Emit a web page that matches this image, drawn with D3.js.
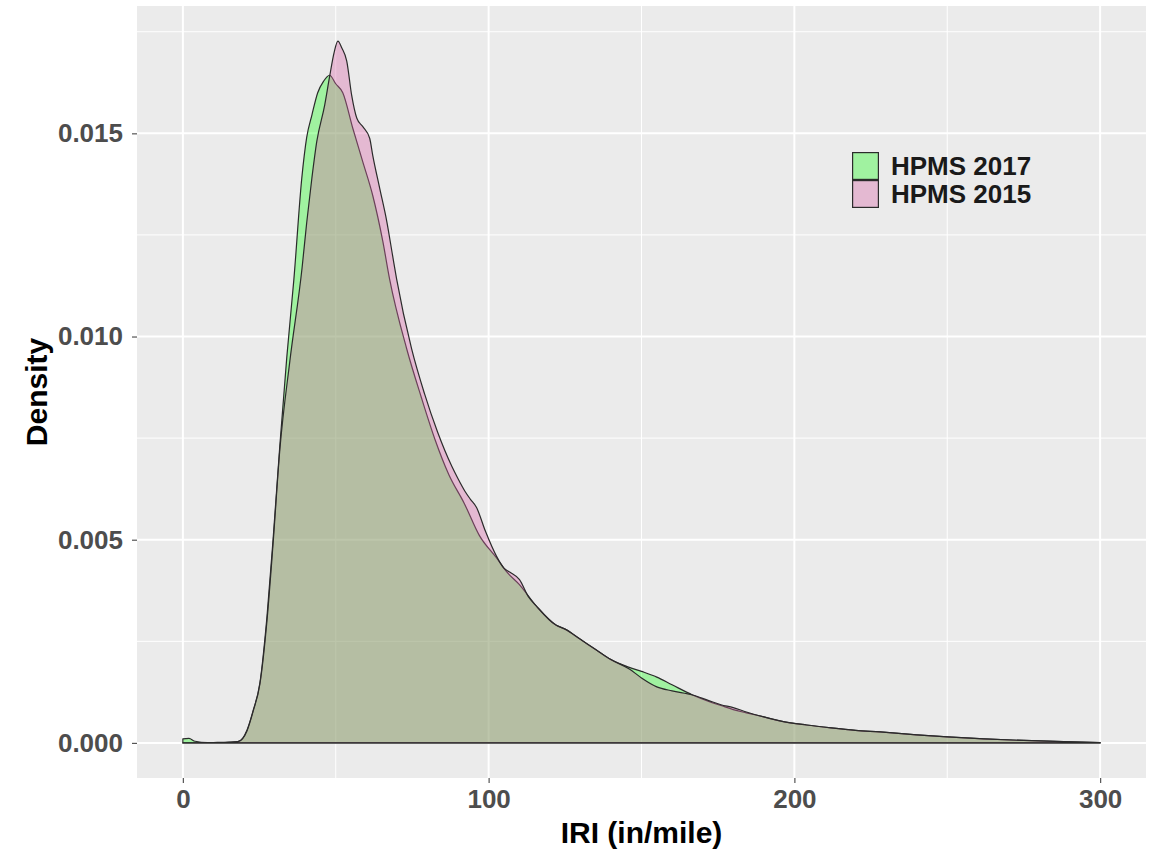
<!DOCTYPE html>
<html>
<head>
<meta charset="utf-8">
<script src="https://cdn.jsdelivr.net/npm/d3@7"></script>
<style>
  html, body { margin: 0; padding: 0; background: #ffffff; }
  svg { display: block; }
</style>
</head>
<body>
<svg id="chart" width="1151" height="852"></svg>
<script>
// ---- data ----
const seriesNames = ["HPMS 2017", "HPMS 2015"];

const iri2017 = [0, 2, 4, 8, 14, 18, 21, 23, 25.2, 27.5, 29.5, 31.7, 34, 36.3, 38.9, 40.5, 42.2, 44.1, 46, 48, 50, 52.3, 55.6, 58.8, 62.1, 65.4, 67.6, 73.2, 78, 82.4, 87, 92, 97, 102.6, 106, 110, 115.7, 122, 125, 130, 135, 140, 146, 150, 155, 160, 166.7, 172, 176, 180, 184.3, 190, 196, 204, 212, 220, 228, 240, 250, 262, 275, 288, 300];
const dens2017 = [0.00010, 0.00011, 0.00004, 0.00001, 0.00001, 0.00003, 0.00032, 0.00080, 0.00148, 0.00310, 0.00500, 0.00730, 0.00950, 0.01140, 0.01390, 0.01490, 0.01545, 0.01600, 0.01628, 0.01643, 0.01622, 0.01600, 0.01512, 0.01431, 0.01347, 0.01234, 0.01142, 0.00970, 0.00850, 0.00748, 0.00660, 0.00590, 0.00510, 0.00455, 0.00420, 0.00390, 0.00336, 0.00290, 0.00280, 0.00255, 0.00230, 0.00205, 0.00186, 0.00176, 0.00162, 0.00143, 0.00118, 0.00102, 0.00092, 0.00082, 0.00074, 0.00064, 0.00053, 0.00044, 0.00037, 0.00031, 0.00027, 0.00020, 0.00015, 0.00010, 0.00006, 0.00003, 0.00001];

const iri2015 = [0, 4, 10, 15, 18, 21, 23, 25.2, 27.5, 29.5, 31.7, 35, 39, 40.5, 42.2, 43.8, 46.4, 48, 49.5, 50.7, 52, 53.6, 55.2, 56.9, 58.8, 61.1, 62.1, 64.4, 66.7, 68.6, 69.9, 74.8, 79, 83.3, 88, 90, 92.2, 94, 96, 99, 102.6, 105, 107, 110.1, 113, 115.7, 122, 125, 130, 135, 140, 146, 150, 155, 160, 166.7, 172, 176, 180, 184.3, 190, 196, 204, 212, 220, 228, 240, 250, 262, 275, 288, 300];
const dens2015 = [0.00000, 0.00000, 0.00001, 0.00002, 0.00003, 0.00030, 0.00078, 0.00145, 0.00300, 0.00490, 0.00720, 0.00940, 0.01170, 0.01280, 0.01390, 0.01480, 0.01570, 0.01640, 0.01700, 0.01727, 0.01710, 0.01678, 0.01594, 0.01537, 0.01517, 0.01488, 0.01446, 0.01364, 0.01283, 0.01199, 0.01142, 0.00970, 0.00860, 0.00765, 0.00680, 0.00650, 0.00620, 0.00600, 0.00580, 0.00520, 0.00459, 0.00430, 0.00420, 0.00402, 0.00360, 0.00336, 0.00290, 0.00280, 0.00255, 0.00230, 0.00205, 0.00182, 0.00160, 0.00138, 0.00128, 0.00118, 0.00104, 0.00094, 0.00087, 0.00076, 0.00064, 0.00053, 0.00044, 0.00037, 0.00031, 0.00027, 0.00020, 0.00015, 0.00010, 0.00006, 0.00003, 0.00001];

const xTicks = [0, 100, 200, 300];
const xMinor = [50, 150, 250];
const yTicks = [0, 0.005, 0.010, 0.015];
const yMinor = [0.0025, 0.0075, 0.0125, 0.0175];
const yTickLabels = ["0.000", "0.005", "0.010", "0.015"];
const xTitle = "IRI (in/mile)";
const yTitle = "Density";

const fillColors = ["rgb(32,254,32)", "rgb(216,100,168)"];
const fillOpacity = 0.37;

// ---- layout ----
const svg = d3.select("#chart");
const panel = { left: 137, right: 1146, top: 6, bottom: 778 };

const series = [
  { name: seriesNames[0], pts: iri2017.map((x, i) => ({ x, y: dens2017[i] })) },
  { name: seriesNames[1], pts: iri2015.map((x, i) => ({ x, y: dens2015[i] })) }
];

const allX = iri2017.concat(iri2015);
const allY = dens2017.concat(dens2015);
const xr = d3.extent(allX), yr = [0, d3.max(allY)];
const xPad = (xr[1] - xr[0]) * 0.05, yPad = (yr[1] - yr[0]) * 0.05;

const x = d3.scaleLinear().domain([xr[0] - xPad, xr[1] + xPad]).range([panel.left, panel.right]);
const y = d3.scaleLinear().domain([yr[0] - yPad, yr[1] + yPad]).range([panel.bottom, panel.top]);

// panel background
svg.append("rect")
  .attr("x", panel.left).attr("y", panel.top)
  .attr("width", panel.right - panel.left).attr("height", panel.bottom - panel.top)
  .attr("fill", "#EBEBEB");

// grid
const grid = svg.append("g");
grid.selectAll(".xminor").data(xMinor).join("line")
  .attr("x1", d => x(d)).attr("x2", d => x(d))
  .attr("y1", panel.top).attr("y2", panel.bottom)
  .attr("stroke", "#ffffff").attr("stroke-width", 1);
grid.selectAll(".yminor").data(yMinor).join("line")
  .attr("y1", d => y(d)).attr("y2", d => y(d))
  .attr("x1", panel.left).attr("x2", panel.right)
  .attr("stroke", "#ffffff").attr("stroke-width", 1);
grid.selectAll(".xmajor").data(xTicks).join("line")
  .attr("x1", d => x(d)).attr("x2", d => x(d))
  .attr("y1", panel.top).attr("y2", panel.bottom)
  .attr("stroke", "#ffffff").attr("stroke-width", 2);
grid.selectAll(".ymajor").data(yTicks).join("line")
  .attr("y1", d => y(d)).attr("y2", d => y(d))
  .attr("x1", panel.left).attr("x2", panel.right)
  .attr("stroke", "#ffffff").attr("stroke-width", 2);

// density areas
const area = d3.area()
  .x(d => x(d.x))
  .y0(y(0))
  .y1(d => y(d.y))
  .curve(d3.curveMonotoneX);

svg.append("g").selectAll("path").data(series).join("path")
  .attr("d", d => area(d.pts))
  .attr("fill", (d, i) => fillColors[i])
  .attr("fill-opacity", fillOpacity)
  .attr("stroke", "#2b2b2b")
  .attr("stroke-width", 1.2)
  .attr("stroke-linejoin", "round");

// axes
const font = "'Liberation Sans', Arial, sans-serif";
const xAxis = d3.axisBottom(x).tickValues(xTicks).tickSize(5).tickPadding(7).tickFormat(d3.format("d"));
const gx = svg.append("g").attr("transform", `translate(0,${panel.bottom})`).call(xAxis);
gx.select(".domain").remove();
gx.selectAll(".tick line").attr("stroke", "#555555").attr("stroke-width", 1.2);
gx.selectAll(".tick text").attr("fill", "#4D4D4D").style("font-family", font)
  .style("font-size", "26px").style("font-weight", "bold");

const yAxis = d3.axisLeft(y).tickValues(yTicks).tickSize(5).tickPadding(9)
  .tickFormat((d, i) => yTickLabels[i]);
const gy = svg.append("g").attr("transform", `translate(${panel.left},0)`).call(yAxis);
gy.select(".domain").remove();
gy.selectAll(".tick line").attr("stroke", "#555555").attr("stroke-width", 1.2);
gy.selectAll(".tick text").attr("fill", "#4D4D4D").style("font-family", font)
  .style("font-size", "26px").style("font-weight", "bold");

// axis titles
svg.append("text")
  .attr("x", (panel.left + panel.right) / 2).attr("y", 843)
  .attr("text-anchor", "middle")
  .style("font-family", font).style("font-size", "30px").style("font-weight", "bold")
  .attr("fill", "#000000").text(xTitle);

svg.append("text")
  .attr("transform", `translate(47,${(panel.top + panel.bottom) / 2}) rotate(-90)`)
  .attr("text-anchor", "middle")
  .style("font-family", font).style("font-size", "30px").style("font-weight", "bold")
  .attr("fill", "#000000").text(yTitle);

// legend
const legend = svg.append("g").attr("transform", "translate(852,152)");
const keyW = 27, keyH = 28;
seriesNames.forEach((name, i) => {
  const g = legend.append("g").attr("transform", `translate(0,${i * keyH})`);
  g.append("rect").attr("width", keyW).attr("height", keyH).attr("fill", "#EBEBEB");
  g.append("rect").attr("x", 0.6).attr("y", 0.6).attr("width", keyW - 1.2).attr("height", keyH - 1.2)
    .attr("fill", fillColors[i]).attr("fill-opacity", fillOpacity)
    .attr("stroke", "#2b2b2b").attr("stroke-width", 1.2);
  g.append("text").attr("x", keyW + 12).attr("y", keyH / 2)
    .attr("dy", "0.35em")
    .style("font-family", font).style("font-size", "26px").style("font-weight", "bold")
    .attr("fill", "#1a1a1a").text(name);
});
</script>
</body>
</html>
